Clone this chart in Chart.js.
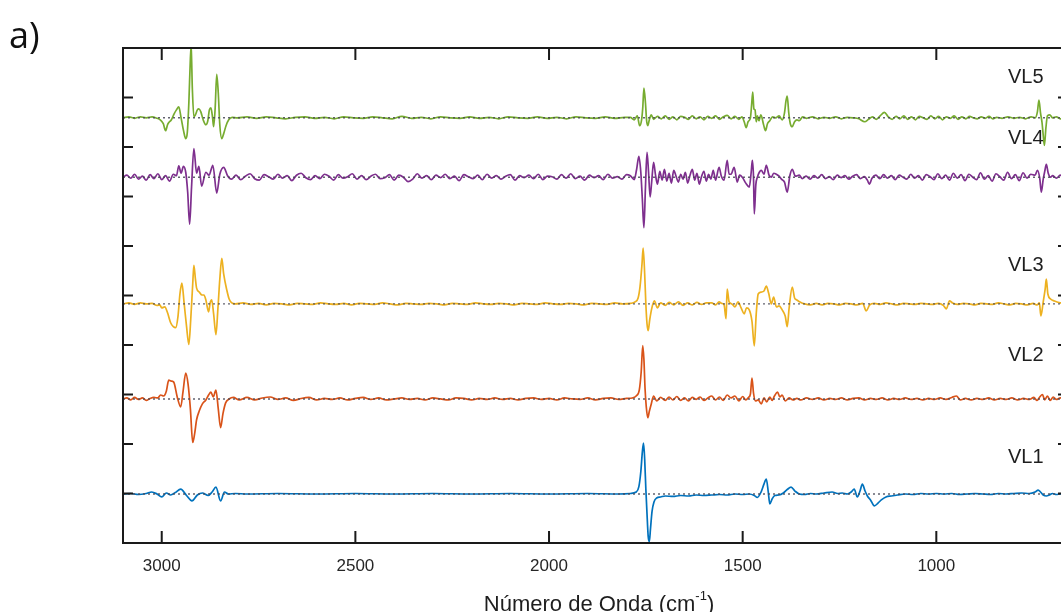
<!DOCTYPE html>
<html>
<head>
<meta charset="utf-8">
<script src="https://cdn.jsdelivr.net/npm/chart.js@4.4.0/dist/chart.umd.min.js"></script>
<style>
  html, body { margin: 0; padding: 0; background: #fff; overflow: hidden; }
  #wrap { position: relative; width: 1061px; height: 612px; overflow: hidden; }
  canvas { display: block; }
</style>
</head>
<body>
<div id="wrap"><canvas id="spectra" width="1072" height="612"></canvas></div>
<script>
// --- axes ---
const X_MIN = 660;
const X_MAX = 3100;
const xTicks = [3000, 2500, 2000, 1500, 1000];
const yTicks = [10, 20, 30, 40, 50, 60, 70, 80, 90];

// --- series: names, colours, vertical offsets ---
const names = ['VL1', 'VL2', 'VL3', 'VL4', 'VL5'];
const colors = ['#0072BD', '#D95319', '#EDB120', '#7E2F8E', '#77AC30'];
const offsets = [9.9, 29.1, 48.3, 73.9, 85.9];
const labelY = [457, 355, 265, 138, 77];

// second derivative spectra, [wavenumber, value] relative to each offset
const vl1 = [
  [3100, 0], [3080, 0.1], [3060, -0.1], [3040, 0.1], [3026, 0.4], [3012, 0], [3000, -0.6], [2988, 0.2],
  [2977, -0.2], [2965, 0.3], [2951, 1.0], [2936, -0.3], [2922, -1.4], [2908, -0.2], [2895, 0.2], [2880, -0.3],
  [2870, 0.4], [2860, 1.4], [2848, -1.4], [2838, 0.4], [2828, 0], [2810, 0.1], [2780, 0], [2700, 0.1],
  [2600, 0], [2500, 0.1], [2400, 0], [2300, 0.1], [2200, 0], [2100, 0.1], [2000, 0], [1900, 0.1],
  [1820, 0], [1790, 0.1], [1775, 0.4], [1768, 1.5], [1763, 4.5], [1759, 8.5], [1756, 10.3], [1753, 7],
  [1750, 1], [1747, -4], [1744, -8.5], [1741, -9.6], [1738, -7], [1734, -3.5], [1729, -1.6], [1722, -0.8],
  [1712, -0.6], [1700, -0.4], [1680, -0.5], [1660, -0.3], [1640, -0.4], [1620, -0.2], [1600, -0.3], [1580, -0.2],
  [1560, -0.1], [1540, -0.2], [1520, 0], [1500, -0.1], [1483, 0], [1470, -0.3], [1462, -0.7], [1452, 0.5],
  [1445, 2.0], [1439, 3.0], [1434, 0.5], [1430, -2.0], [1424, -1.0], [1417, -0.3], [1406, -0.2], [1395, 0.2],
  [1385, 0.9], [1375, 1.4], [1365, 0.6], [1354, 0], [1340, -0.1], [1325, 0.1], [1310, 0], [1290, 0.2],
  [1269, 0.4], [1255, 0.1], [1243, 0.2], [1230, 0], [1220, 0.4], [1212, 1.0], [1204, -0.6], [1197, 0.6],
  [1191, 2.0], [1184, 0.6], [1178, -0.4], [1170, -1.2], [1160, -2.4], [1150, -1.8], [1142, -1.2], [1130, -0.6],
  [1116, -0.4], [1100, -0.2], [1080, 0], [1060, -0.1], [1040, 0.1], [1020, 0], [1000, 0.1], [980, 0],
  [960, 0.1], [940, -0.1], [920, 0], [900, 0.1], [880, 0], [860, -0.1], [840, 0.1], [820, 0],
  [800, 0.1], [780, 0.2], [760, 0.1], [745, 0.4], [737, 0.8], [731, 0.4], [724, -0.2], [716, -0.4],
  [708, -0.2], [700, 0.1], [690, -0.1], [680, 0], [660, 0]
];

const vl2 = [
  [3100, 0], [3090, 0.2], [3080, -0.2], [3070, 0.3], [3060, -0.1], [3050, 0.2], [3040, -0.3], [3030, 0.1],
  [3020, 0.3], [3010, 0.2], [3003, 0.8], [2995, 0.6], [2988, 1.6], [2982, 3.8], [2975, 3.6], [2969, 3.4],
  [2960, 0.4], [2951, -1.6], [2945, 1.5], [2938, 5.2], [2932, 3.0], [2926, -2.0], [2920, -8.8], [2915, -7.0],
  [2910, -4.2], [2903, -2.4], [2895, -1.0], [2886, -0.2], [2879, 0.8], [2873, 1.4], [2867, 0.4], [2860, 1.8],
  [2854, -2.0], [2848, -5.8], [2842, -3.0], [2835, -0.8], [2826, 0], [2815, 0.3], [2800, -0.2], [2780, 0.3],
  [2760, -0.2], [2740, 0.2], [2720, 0.4], [2700, -0.1], [2680, 0.2], [2660, -0.3], [2640, 0.1], [2620, 0.3],
  [2600, -0.2], [2580, 0.1], [2560, -0.1], [2540, 0.2], [2520, -0.2], [2500, 0.1], [2480, 0.3], [2460, -0.1],
  [2440, 0.2], [2420, -0.2], [2400, 0], [2380, 0.2], [2360, -0.1], [2340, 0.1], [2320, -0.2], [2300, 0.2],
  [2280, 0], [2260, -0.2], [2240, 0.2], [2220, 0.1], [2200, -0.2], [2180, 0.1], [2160, -0.1], [2140, 0.2],
  [2120, -0.1], [2100, 0.1], [2080, -0.2], [2060, 0.1], [2040, 0.2], [2020, -0.1], [2000, 0.1], [1980, -0.2],
  [1960, 0.2], [1940, 0], [1920, -0.1], [1900, 0.2], [1880, -0.2], [1860, 0.1], [1840, 0.2], [1820, -0.1],
  [1800, 0.1], [1785, 0.2], [1775, 0.6], [1767, 1.8], [1762, 5.5], [1758, 10.8], [1755, 8], [1752, 2],
  [1749, -1.5], [1745, -3.8], [1741, -2.5], [1736, -1.0], [1730, 0.6], [1722, -0.4], [1712, 0.3], [1700, -0.3],
  [1690, 0.4], [1680, -0.2], [1670, 0.5], [1660, -0.3], [1650, 0.2], [1640, -0.4], [1630, 0.3], [1620, -0.1],
  [1610, 0.4], [1600, -0.3], [1590, 0.2], [1580, 0.6], [1570, -0.2], [1560, 0.4], [1550, -0.3], [1540, 0.8],
  [1530, 0.2], [1520, 0.6], [1510, -0.4], [1500, 0.5], [1492, -0.2], [1485, 0.3], [1480, 1.0], [1476, 4.2],
  [1472, 1.2], [1467, -0.4], [1460, -0.2], [1452, -1.0], [1445, 0.2], [1438, -0.6], [1430, 0.4], [1424, -0.3],
  [1418, 0.6], [1410, 1.4], [1404, 0.4], [1398, 0.8], [1390, -0.4], [1380, 0.2], [1370, -0.2], [1360, 0.1],
  [1350, -0.2], [1335, 0.2], [1320, -0.1], [1305, 0.2], [1290, -0.2], [1275, 0.1], [1260, -0.1], [1245, 0.2],
  [1230, -0.2], [1215, 0.1], [1200, 0.2], [1185, -0.2], [1170, 0.1], [1155, -0.1], [1140, 0.2], [1125, -0.2],
  [1110, 0.1], [1095, -0.1], [1080, 0.2], [1065, -0.1], [1050, 0.1], [1035, -0.2], [1020, 0.1], [1005, -0.1],
  [990, 0.2], [975, -0.1], [960, 0.3], [948, 0.6], [938, -0.2], [925, 0.1], [910, -0.2], [895, 0.1],
  [880, -0.1], [865, 0.2], [850, -0.2], [835, 0.1], [820, -0.1], [805, 0.2], [790, -0.2], [775, 0.1],
  [760, -0.1], [748, 0.3], [740, -0.3], [733, 0.4], [726, 0.9], [720, -0.2], [713, 0.6], [706, -0.3],
  [698, 0.4], [690, -0.1], [680, 0.2], [660, 0]
];

const vl3 = [
  [3100, 0], [3085, 0.2], [3070, -0.1], [3055, 0.2], [3040, 0], [3025, 0.1], [3012, -0.3], [3005, -0.2],
  [3000, -0.8], [2992, -0.6], [2985, -1.8], [2977, -3.8], [2970, -4.6], [2964, -4.8], [2958, -2.5], [2953, 2.0],
  [2948, 4.2], [2942, 0], [2936, -4.5], [2930, -8.2], [2925, -3.0], [2920, 4.0], [2917, 7.8], [2913, 5.0],
  [2910, 3.2], [2903, 2.4], [2896, 1.8], [2891, 1.8], [2886, 0.8], [2879, -1.6], [2875, 0.2], [2871, 0.8],
  [2866, -2.0], [2860, -6.2], [2855, -1.0], [2850, 5.0], [2845, 9.2], [2840, 6.0], [2832, 2.8], [2826, 1.0],
  [2819, 0.2], [2810, 0], [2790, 0.2], [2770, -0.1], [2750, 0.1], [2730, -0.2], [2710, 0.1], [2690, 0],
  [2670, -0.2], [2650, 0.1], [2630, 0], [2610, -0.1], [2590, 0.2], [2570, 0], [2550, -0.1], [2530, 0.1],
  [2510, -0.2], [2490, 0.1], [2470, 0], [2450, -0.1], [2430, 0.2], [2410, 0], [2390, -0.2], [2370, 0.1],
  [2350, 0], [2330, -0.1], [2310, 0.1], [2290, 0], [2270, -0.2], [2250, 0.1], [2230, 0], [2210, -0.1],
  [2190, 0.2], [2170, 0], [2150, -0.1], [2130, 0.1], [2110, 0], [2090, -0.2], [2070, 0.1], [2050, 0],
  [2030, -0.1], [2010, 0.2], [1990, 0], [1970, -0.1], [1950, 0.1], [1930, 0], [1910, -0.2], [1890, 0.1],
  [1870, 0], [1850, -0.1], [1830, 0.2], [1810, 0], [1790, 0.1], [1778, 0.4], [1770, 1.2], [1765, 3.5],
  [1760, 8], [1757, 11.3], [1753, 6], [1750, 0], [1747, -4], [1744, -5.4], [1740, -3.2], [1735, -1.0],
  [1728, 0.6], [1720, -0.8], [1712, 0.2], [1700, -0.3], [1690, 0.3], [1678, -0.2], [1666, 0.4], [1654, -0.3],
  [1642, 0.2], [1630, -0.2], [1618, 0.3], [1606, -0.1], [1594, 0.2], [1580, 0.2], [1570, -0.2], [1561, 0.4],
  [1554, 0.1], [1548, -0.2], [1543, -3.0], [1540, 3.0], [1535, 0.4], [1528, 0], [1520, -0.6], [1512, 0.4],
  [1504, -0.8], [1496, -2.0], [1490, -0.8], [1483, -1.2], [1476, -3.5], [1470, -8.5], [1465, -2.0], [1460, 2.0],
  [1452, 2.4], [1445, 2.6], [1439, 3.6], [1433, 2.2], [1426, 0], [1420, 1.4], [1413, -0.6], [1406, -0.4],
  [1398, -1.2], [1390, -2.5], [1385, -4.6], [1380, -0.8], [1372, 3.4], [1366, 1.2], [1360, 0.8], [1352, 0.4],
  [1340, 0], [1325, -0.2], [1310, 0.1], [1295, -0.2], [1280, 0.1], [1265, 0], [1250, -0.2], [1235, 0.1],
  [1220, 0], [1205, -0.2], [1190, 0.1], [1181, -1.4], [1172, -0.2], [1160, 0.1], [1145, -0.1], [1130, 0.2],
  [1115, 0], [1100, -0.2], [1085, 0.1], [1070, 0], [1055, -0.1], [1040, 0.1], [1025, 0], [1010, -0.1],
  [995, 0.1], [982, -0.3], [974, -1.0], [966, 0.6], [958, 0.2], [945, -0.1], [930, 0.1], [915, 0],
  [900, -0.2], [885, 0.1], [870, 0], [855, -0.1], [840, 0.2], [825, 0], [810, -0.2], [795, 0.1],
  [780, 0], [765, -0.2], [750, 0.1], [740, -0.2], [734, 0.2], [730, -2.4], [724, 0.4], [719, 3.0],
  [716, 5.0], [712, 2.0], [705, 1.0], [695, 0.6], [680, 0.2], [660, 0.1]
];

const vl4 = [
  [3100, 0], [3090, 0.4], [3080, -0.2], [3070, 0.6], [3060, -0.4], [3050, 0.2], [3040, -0.6], [3030, 0.5],
  [3020, -0.3], [3010, 0.7], [3000, -0.5], [2990, 0.3], [2980, -0.8], [2970, 0.6], [2962, 0.3], [2956, 2.3],
  [2950, 0.8], [2944, 2.2], [2938, 1.0], [2933, -3.0], [2928, -9.5], [2923, -2.0], [2917, 5.8], [2910, 0.8],
  [2904, 2.2], [2897, -1.8], [2886, 1.0], [2878, 0.4], [2868, 2.4], [2858, -3.2], [2850, 0.6], [2840, 2.0],
  [2830, 0.3], [2820, -0.4], [2808, 0.4], [2796, -0.5], [2784, 0.2], [2772, 0.7], [2760, -0.3], [2748, -0.6],
  [2736, 0.5], [2724, 0.1], [2712, -0.4], [2700, 0.6], [2688, -0.2], [2676, 0.3], [2664, -0.7], [2652, 0.4],
  [2640, 0.8], [2628, -0.1], [2616, -0.5], [2604, 0.3], [2592, -0.3], [2580, 0.6], [2568, 0.2], [2556, -0.6],
  [2544, 0.5], [2532, -0.2], [2520, 0.1], [2508, 0.7], [2496, -0.4], [2484, 0.3], [2472, -0.5], [2460, 0.2],
  [2448, 0.6], [2436, -0.3], [2424, -0.1], [2412, 0.5], [2400, -0.6], [2388, 0.4], [2376, 0], [2364, -0.9],
  [2352, -0.4], [2340, 0.7], [2328, -0.2], [2316, 0.3], [2304, -0.5], [2292, 0.4], [2280, -0.1], [2268, 0.6],
  [2256, -0.3], [2244, 0.2], [2232, -0.7], [2220, 0.5], [2208, 0.1], [2196, -0.3], [2184, 0.4], [2172, -0.5],
  [2160, 0.6], [2148, -0.2], [2136, 0.3], [2124, -0.4], [2112, 0.2], [2100, 0.5], [2088, -0.6], [2076, 0.3],
  [2064, -0.1], [2052, 0.4], [2040, -0.3], [2028, 0.6], [2016, -0.5], [2004, 0.2], [1992, 0.1], [1980, -0.4],
  [1968, 0.5], [1956, -0.2], [1944, 0.7], [1932, -0.3], [1920, 0.2], [1908, -0.6], [1896, 0.4], [1884, -0.1],
  [1872, 0.3], [1860, -0.5], [1848, 0.6], [1836, -0.2], [1824, 0.1], [1812, -0.4], [1800, 0.5], [1790, 0.3],
  [1780, -0.5], [1774, 1.5], [1768, 4.2], [1763, 1.0], [1759, -4.5], [1755, -10.2], [1751, -2], [1747, 5.0],
  [1743, 1.0], [1739, -4.0], [1735, -1.0], [1730, 3.0], [1725, 0.4], [1720, -1.4], [1714, 1.2], [1708, -0.6],
  [1702, 1.6], [1696, -0.8], [1690, 0.8], [1684, -1.2], [1678, 1.4], [1672, 0.2], [1666, -1.0], [1660, 0.6],
  [1654, -0.4], [1648, 1.0], [1642, -1.2], [1636, 0.4], [1630, 1.6], [1624, -0.6], [1618, 0.8], [1612, -1.4],
  [1606, 0.2], [1600, 1.2], [1594, -0.8], [1588, 0.6], [1582, -0.4], [1576, 1.4], [1570, -0.6], [1561, 2.0],
  [1555, 0.2], [1548, -0.6], [1540, 3.4], [1535, 0.6], [1530, 0.6], [1522, 2.0], [1514, -1.0], [1508, 0.4],
  [1501, 0], [1492, -1.2], [1483, -2.0], [1478, 1.0], [1475, 3.4], [1472, 0], [1470, -7.4], [1466, -1.5],
  [1462, 0], [1457, 1.0], [1452, 1.4], [1445, 0.6], [1439, 2.4], [1432, 0.4], [1426, 0], [1420, 0.8],
  [1413, 0.6], [1406, 0.2], [1400, -0.4], [1392, -1.0], [1385, -3.0], [1378, 0.4], [1372, 1.6], [1364, 0.2],
  [1354, 0.4], [1346, -0.3], [1336, 0.2], [1326, -0.4], [1316, 0.3], [1306, -0.2], [1296, 0.5], [1286, -0.3],
  [1276, 0.1], [1266, -0.5], [1256, 0.4], [1246, -0.1], [1236, 0.3], [1226, -0.4], [1216, 0.2], [1206, 0.5],
  [1196, -0.3], [1186, 0.1], [1178, -0.6], [1173, -1.4], [1166, -0.2], [1156, 0.4], [1146, -0.3], [1136, 0.5],
  [1126, -0.2], [1116, 0.3], [1106, -0.5], [1096, 0.4], [1086, 0], [1076, -0.4], [1066, 0.6], [1056, -0.2],
  [1046, 0.3], [1036, -0.6], [1026, 0.5], [1016, 0.1], [1006, -0.5], [996, 0.7], [986, -0.3], [976, 0.4],
  [966, -0.6], [956, 0.8], [946, -0.2], [936, 0.5], [926, -0.7], [916, 0.6], [906, 0], [896, -0.5],
  [886, 0.9], [876, -0.4], [866, 0.3], [856, -0.8], [846, 0.7], [836, 0.1], [826, -0.6], [816, 1.0],
  [806, -0.3], [796, 0.5], [786, -0.7], [776, 0.9], [766, -0.2], [756, 0.6], [745, 0.4], [739, 1.4],
  [733, -0.2], [729, -3.0], [724, -0.4], [720, 1.2], [716, 2.6], [711, 0.8], [705, 0], [700, 0.3],
  [690, -0.2], [680, 0.4], [670, -0.3], [660, 0.2]
];

const vl5 = [
  [3100, 0], [3085, 0.2], [3070, -0.1], [3055, 0.2], [3040, 0], [3025, 0.2], [3012, -0.1], [3004, -0.4],
  [2996, -1.2], [2990, -2.6], [2985, -1.4], [2982, -1.0], [2975, -0.4], [2968, 0.8], [2962, 1.6], [2956, 2.2],
  [2950, 0], [2944, -2.5], [2938, -4.2], [2934, -3.0], [2930, 3.0], [2926, 12.0], [2924, 14.2], [2921, 6.0],
  [2917, 0.2], [2913, 0.6], [2908, 1.6], [2904, 1.8], [2899, 1.2], [2893, -0.4], [2886, -1.4], [2881, -0.6],
  [2877, 1.6], [2873, 2.0], [2869, 0.2], [2866, -1.8], [2862, 2.0], [2858, 8.8], [2854, 5.0], [2850, -1.5],
  [2845, -4.2], [2840, -3.2], [2834, -1.6], [2827, -0.4], [2818, 0.1], [2805, 0], [2780, 0.2], [2755, -0.1],
  [2730, 0.2], [2705, 0], [2680, -0.2], [2655, 0.1], [2630, 0.2], [2605, -0.1], [2580, 0.1], [2555, -0.2],
  [2530, 0.2], [2505, 0], [2480, -0.1], [2455, 0.2], [2430, 0], [2405, -0.2], [2380, 0.3], [2355, -0.1],
  [2330, 0.1], [2305, -0.2], [2280, 0.2], [2255, 0], [2230, -0.1], [2205, 0.2], [2180, -0.1], [2155, 0.1],
  [2130, -0.2], [2105, 0.2], [2080, 0], [2055, -0.1], [2030, 0.2], [2005, -0.1], [1980, 0.1], [1955, -0.2],
  [1930, 0.2], [1905, 0], [1880, -0.1], [1855, 0.2], [1830, -0.1], [1805, 0.1], [1790, 0.1], [1780, -0.4],
  [1772, 0.4], [1766, -1.6], [1761, -0.4], [1758, 2], [1755, 6.0], [1751, 3], [1748, -0.6], [1745, -1.6],
  [1741, -0.4], [1736, 0.6], [1730, -0.3], [1720, 0.3], [1710, -0.2], [1700, 0.4], [1690, -0.3], [1680, 0.2],
  [1670, -0.4], [1660, 0.3], [1650, 0.1], [1640, -0.3], [1630, 0.4], [1620, -0.2], [1610, 0.2], [1600, -0.4],
  [1590, 0.3], [1580, -0.1], [1570, 0.4], [1560, -0.3], [1550, 0.2], [1540, 0.5], [1530, -0.2], [1520, 0.3],
  [1510, -0.3], [1502, 0.2], [1496, -0.8], [1491, -2.0], [1486, -0.8], [1480, 0], [1477, 2.5], [1474, 5.2],
  [1471, 1.8], [1468, 1.6], [1465, -0.8], [1462, 0.4], [1458, -0.6], [1453, 0.6], [1446, -1.4], [1441, -2.6],
  [1436, -1.2], [1430, -0.6], [1423, 0.2], [1415, 0], [1406, 0.4], [1398, -0.4], [1392, 1.0], [1388, 3.5],
  [1385, 4.4], [1381, 1.0], [1377, -1.2], [1372, -1.8], [1366, -0.8], [1360, -0.4], [1354, -0.6], [1345, 0.2],
  [1335, -0.1], [1320, 0.2], [1305, -0.2], [1290, 0.1], [1275, -0.1], [1260, 0.2], [1245, -0.2], [1230, 0.1],
  [1215, 0], [1200, -0.2], [1185, -0.8], [1175, -0.3], [1165, 0.2], [1155, -0.3], [1145, 0.4], [1134, 1.1],
  [1124, 0.2], [1114, -0.3], [1104, 0.3], [1094, -0.2], [1084, 0.4], [1074, -0.3], [1064, 0.2], [1054, -0.4],
  [1044, 0.3], [1034, 0], [1024, -0.3], [1014, 0.4], [1004, -0.2], [994, 0.3], [984, -0.4], [974, 0.2],
  [964, -0.1], [954, 0.4], [944, -0.3], [934, 0.2], [924, -0.2], [914, 0.3], [904, 0], [894, -0.2],
  [884, 0.2], [874, -0.1], [864, 0.3], [854, -0.2], [844, 0.1], [830, -0.1], [815, 0.2], [800, -0.1],
  [785, 0.1], [770, -0.2], [755, 0.2], [745, 0], [739, 1.2], [735, 3.6], [731, 1.0], [727, -1.0],
  [724, -3.5], [721, -5.6], [717, -2.0], [713, 0.4], [707, 0.6], [700, 0], [690, 0.2], [680, -0.2],
  [660, 0]
];

const spectra = [vl1, vl2, vl3, vl4, vl5];

const FONT = "'Liberation Sans', Arial, Helvetica, sans-serif";

// dotted zero line for each trace
const baselineSets = offsets.map(o => ({
  data: [{ x: X_MAX, y: o }, { x: X_MIN, y: o }],
  borderColor: 'rgba(70,72,85,0.85)',
  borderWidth: 1.4,
  borderDash: [2, 3],
  pointRadius: 0,
  order: 0
}));

const traceSets = spectra.map((s, i) => ({
  label: names[i],
  data: s.map(([w, v]) => ({ x: w, y: offsets[i] + v })),
  borderColor: colors[i],
  borderWidth: 1.7,
  pointRadius: 0,
  cubicInterpolationMode: 'monotone',
  order: 1
}));

// frame, inward ticks, trace labels and axis title
const framePlugin = {
  id: 'frame',
  afterDraw(chart) {
    const { ctx, chartArea: a, scales } = chart;
    const xs = scales.x, ys = scales.y;
    ctx.save();
    ctx.strokeStyle = '#1a1a1a';
    ctx.lineWidth = 2;
    ctx.strokeRect(a.left, a.top, a.right - a.left, a.bottom - a.top);

    ctx.beginPath();
    xTicks.forEach(v => {
      const px = xs.getPixelForValue(v);
      ctx.moveTo(px, a.bottom); ctx.lineTo(px, a.bottom - 12);
      ctx.moveTo(px, a.top); ctx.lineTo(px, a.top + 12);
    });
    yTicks.forEach(v => {
      const py = ys.getPixelForValue(v);
      ctx.moveTo(a.left, py); ctx.lineTo(a.left + 10, py);
      ctx.moveTo(a.right, py); ctx.lineTo(a.right - 10, py);
    });
    ctx.stroke();

    // trace names
    ctx.fillStyle = '#1e1e1e';
    ctx.font = '20px ' + FONT;
    ctx.textAlign = 'left';
    ctx.textBaseline = 'middle';
    names.forEach((n, i) => ctx.fillText(n, 1008, labelY[i]));

    // x axis title with superscript
    const main = 'Número de Onda (cm';
    const sup = '-1';
    const tail = ')';
    ctx.textBaseline = 'alphabetic';
    ctx.font = '22px ' + FONT;
    const wMain = ctx.measureText(main).width;
    const wTail = ctx.measureText(tail).width;
    ctx.font = '13px ' + FONT;
    const wSup = ctx.measureText(sup).width;
    let x = 599 - (wMain + wSup + wTail) / 2;
    ctx.font = '22px ' + FONT;
    ctx.fillText(main, x, 611);
    x += wMain;
    ctx.font = '13px ' + FONT;
    ctx.fillText(sup, x, 600);
    x += wSup;
    ctx.font = '22px ' + FONT;
    ctx.fillText(tail, x, 611);

    // panel letter
    ctx.font = "36px 'Open Sans', Lato, sans-serif";
    ctx.fillStyle = '#111';
    ctx.fillText('a)', 9, 48);
    ctx.restore();
  }
};

new Chart(document.getElementById('spectra'), {
  type: 'line',
  data: { datasets: [...baselineSets, ...traceSets] },
  options: {
    responsive: false,
    animation: false,
    layout: { padding: { top: 48, right: 4, left: 0, bottom: 0 } },
    plugins: { legend: { display: false }, tooltip: { enabled: false } },
    scales: {
      x: {
        type: 'linear',
        reverse: true,
        min: X_MIN,
        max: X_MAX,
        afterBuildTicks: s => { s.ticks = xTicks.map(v => ({ value: v })); },
        afterFit: s => { s.height = 69; },
        grid: { display: false },
        border: { display: false },
        ticks: {
          font: { family: FONT, size: 17 },
          color: '#262626',
          padding: 5,
          maxRotation: 0,
          autoSkip: false,
          callback: v => String(v)
        }
      },
      y: {
        type: 'linear',
        min: 0,
        max: 100,
        afterBuildTicks: s => { s.ticks = yTicks.map(v => ({ value: v })); },
        afterFit: s => { s.width = 123; },
        grid: { display: false },
        border: { display: false },
        ticks: { display: false }
      }
    }
  },
  plugins: [framePlugin]
});
</script>
</body>
</html>
